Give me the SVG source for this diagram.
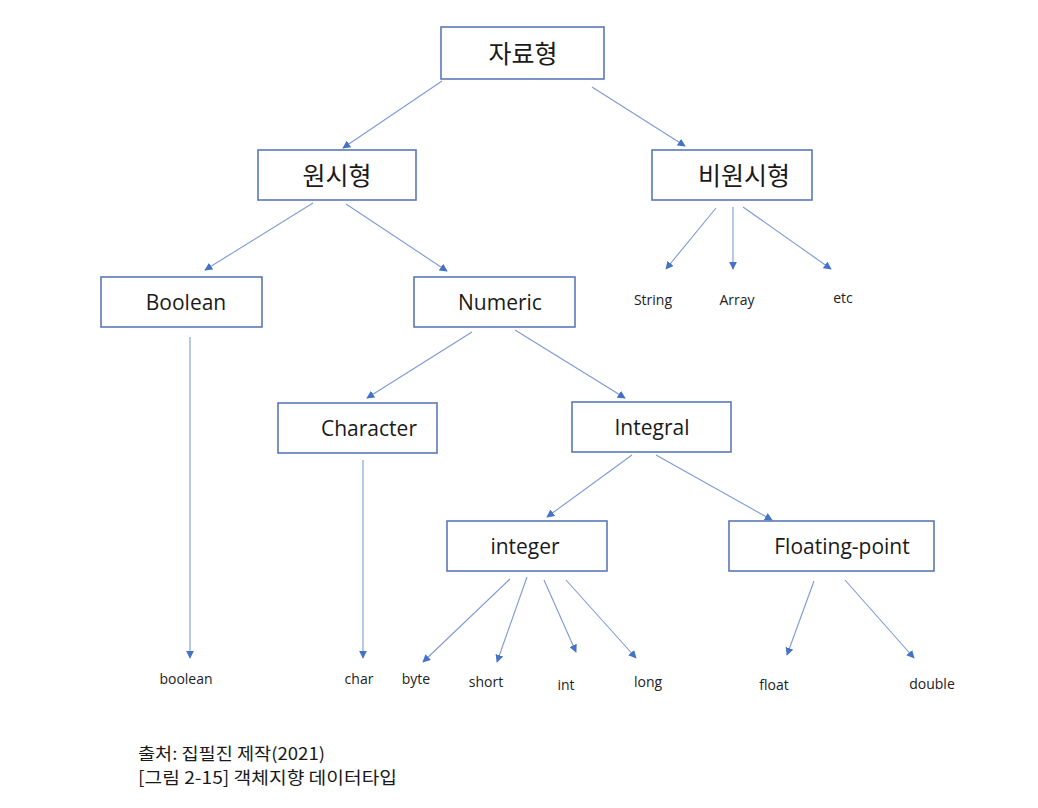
<svg xmlns="http://www.w3.org/2000/svg" width="1038" height="808" viewBox="0 0 1038 808">
<style>
.box{fill:#ffffff;stroke:#5a78b8;stroke-width:1.6}
.ko{font-family:"Noto Sans CJK KR","Noto Sans",sans-serif;font-size:25px;fill:#1a1a1a;text-anchor:middle;dominant-baseline:central}
.en{font-family:"Open Sans","Liberation Sans",sans-serif;font-size:21px;fill:#1a1a1a;text-anchor:middle;dominant-baseline:central}
.leaf{font-family:"Open Sans","Liberation Sans",sans-serif;font-size:14px;fill:#222;text-anchor:middle}
.cap{font-family:"Noto Sans CJK KR","Noto Sans",sans-serif;font-size:17px;fill:#1a1a1a}
.ln{stroke:#7d9ad6;stroke-width:1.1;fill:none;marker-end:url(#ah)}
</style>
<defs>
<marker id="ah" viewBox="0 0 10 10" refX="9" refY="5" markerWidth="8" markerHeight="8" markerUnits="userSpaceOnUse" orient="auto">
<path d="M0,0 L10,5 L0,10 z" fill="#4472c4"/>
</marker>
</defs>
<rect width="1038" height="808" fill="#ffffff"/>
<g id="connectors">
<line class="ln" x1="442" y1="81" x2="343" y2="148"/>
<line class="ln" x1="592" y1="87" x2="685" y2="146"/>
<line class="ln" x1="313" y1="203" x2="205" y2="270"/>
<line class="ln" x1="346" y1="204" x2="447" y2="271"/>
<line class="ln" x1="716" y1="208" x2="666" y2="269"/>
<line class="ln" x1="733" y1="207" x2="733" y2="269"/>
<line class="ln" x1="743" y1="207" x2="831" y2="269"/>
<line class="ln" x1="190" y1="337" x2="190" y2="658"/>
<line class="ln" x1="472" y1="332" x2="367" y2="398"/>
<line class="ln" x1="515" y1="330" x2="625" y2="398"/>
<line class="ln" x1="363" y1="460" x2="363" y2="658"/>
<line class="ln" x1="632" y1="455" x2="547" y2="517"/>
<line class="ln" x1="656" y1="455" x2="772" y2="520"/>
<line class="ln" x1="510" y1="579" x2="423" y2="662"/>
<line class="ln" x1="527" y1="577" x2="497" y2="662"/>
<line class="ln" x1="544" y1="580" x2="576" y2="652"/>
<line class="ln" x1="566" y1="580" x2="636" y2="658"/>
<line class="ln" x1="814" y1="581" x2="787" y2="655"/>
<line class="ln" x1="845" y1="580" x2="914" y2="658"/>
</g>
<g id="n-jaryohyeong"><rect class="box" x="441" y="27" width="163" height="52"/><text class="ko" x="523" y="52">자료형</text></g>
<g id="n-wonsi"><rect class="box" x="258" y="150" width="158" height="50"/><text class="ko" x="337" y="174">원시형</text></g>
<g id="n-biwonsi"><rect class="box" x="652" y="150" width="160" height="50"/><text class="ko" x="744" y="174">비원시형</text></g>
<g id="n-boolean"><rect class="box" x="101" y="277" width="161" height="50"/><text class="en" x="186" y="302">Boolean</text></g>
<g id="n-numeric"><rect class="box" x="414" y="277" width="161" height="50"/><text class="en" x="500" y="302">Numeric</text></g>
<g id="n-character"><rect class="box" x="278" y="403" width="159" height="50"/><text class="en" x="369" y="428">Character</text></g>
<g id="n-integral"><rect class="box" x="572" y="402" width="159" height="50"/><text class="en" x="652" y="427">Integral</text></g>
<g id="n-integer"><rect class="box" x="447" y="521" width="160" height="50"/><text class="en" x="525" y="546">integer</text></g>
<g id="n-floating"><rect class="box" x="729" y="521" width="205" height="50"/><text class="en" x="842" y="546">Floating-point</text></g>
<g id="leaves">
<text class="leaf" x="653" y="305">String</text>
<text class="leaf" x="737" y="305">Array</text>
<text class="leaf" x="843" y="303">etc</text>
<text class="leaf" x="186" y="684">boolean</text>
<text class="leaf" x="359" y="684">char</text>
<text class="leaf" x="416" y="684">byte</text>
<text class="leaf" x="486" y="687">short</text>
<text class="leaf" x="566" y="690">int</text>
<text class="leaf" x="648" y="687">long</text>
<text class="leaf" x="774" y="690">float</text>
<text class="leaf" x="932" y="689">double</text>
</g>
<g id="caption">
<text class="cap" x="138" y="760" textLength="187" lengthAdjust="spacingAndGlyphs">출처: 집필진 제작(2021)</text>
<text class="cap" x="138" y="784" textLength="259" lengthAdjust="spacingAndGlyphs">[그림 2-15] 객체지향 데이터타입</text>
</g>
</svg>
